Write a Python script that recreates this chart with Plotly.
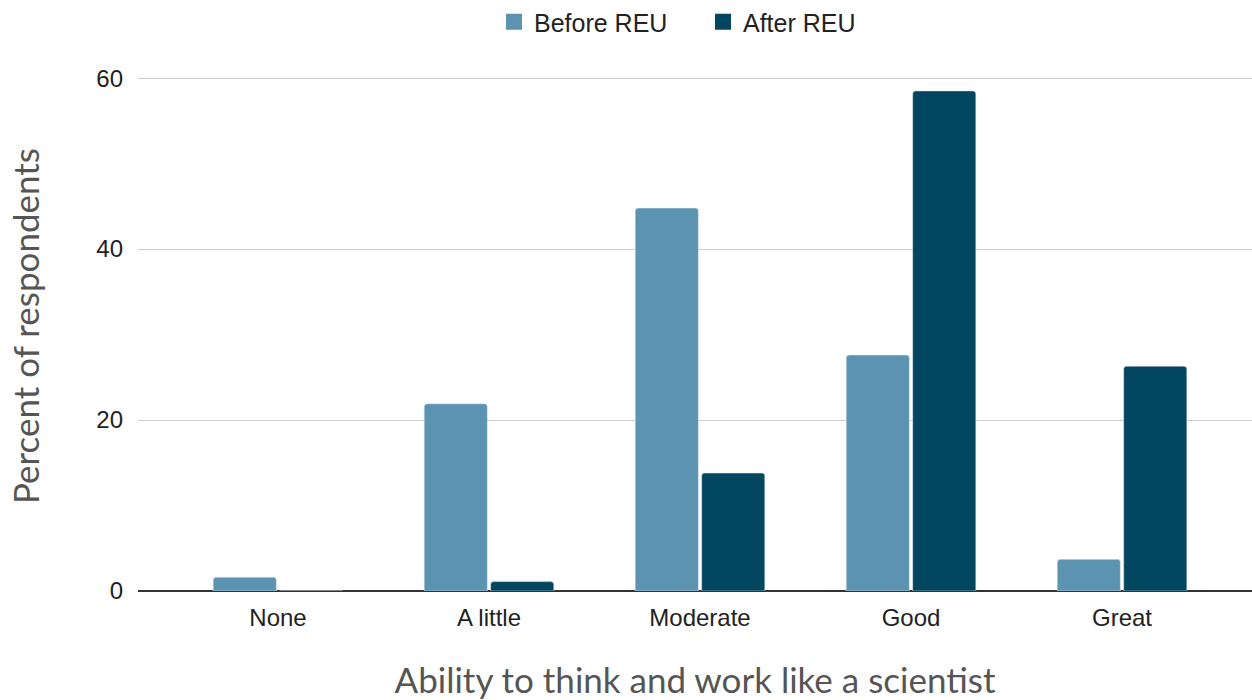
import plotly.graph_objects as go

categories = ["None", "A little", "Moderate", "Good", "Great"]
before_reu = [1.6, 21.9, 44.8, 27.6, 3.7]
after_reu = [0, 1.1, 13.8, 58.5, 26.3]

before_color = "#5b93b0"
after_color = "#03465f"

fig = go.Figure()
fig.add_trace(go.Bar(name="Before REU", x=categories, y=before_reu, marker_color=before_color,
                     showlegend=False))
fig.add_trace(go.Bar(name="After REU", x=categories, y=after_reu, marker_color=after_color,
                     showlegend=False))
# legend entries with big square swatches
for name, col in [("Before REU", before_color), ("After REU", after_color)]:
    fig.add_trace(go.Scatter(x=[None], y=[None], mode="markers", name=name,
                             marker=dict(symbol="square", size=22, color=col)))

tick_font = dict(family="Liberation Sans, Arial", size=24, color="#222")
title_font = dict(family="Lato, Nunito, sans-serif", size=35, color="#555")

fig.update_layout(
    width=1252, height=700,
    margin=dict(l=138, r=0, t=61, b=109),
    plot_bgcolor="white", paper_bgcolor="white",
    barmode="group", bargap=0.37, bargroupgap=0.05, barcornerradius=3,
    legend=dict(orientation="h", x=494 / 1252, xref="container", xanchor="left",
                y=1 - 22 / 700, yref="container", yanchor="middle", itemsizing="trace",
                entrywidth=164, entrywidthmode="pixels",
                font=dict(family="Liberation Sans, Arial", size=25, color="#222")),
    xaxis=dict(range=[-0.6635, 4.616], tickfont=tick_font, showgrid=False,
               showline=False, ticks="", automargin=False, ticklabelstandoff=10,
               title=dict(text="Ability to think and work like a scientist", font=title_font, standoff=58)),
    yaxis=dict(range=[0, 62], tickvals=[0, 20, 40, 60], tickfont=tick_font,
               gridcolor="#cccccc", gridwidth=1, zeroline=True, zerolinecolor="#333",
               zerolinewidth=2, ticklabelstandoff=14, automargin=False,
               title=dict(text="Percent of respondents", font=title_font, standoff=46)),
)

fig.write_html("out.html", config={"displayModeBar": False},
               post_script="document.body.style.margin='0';")
